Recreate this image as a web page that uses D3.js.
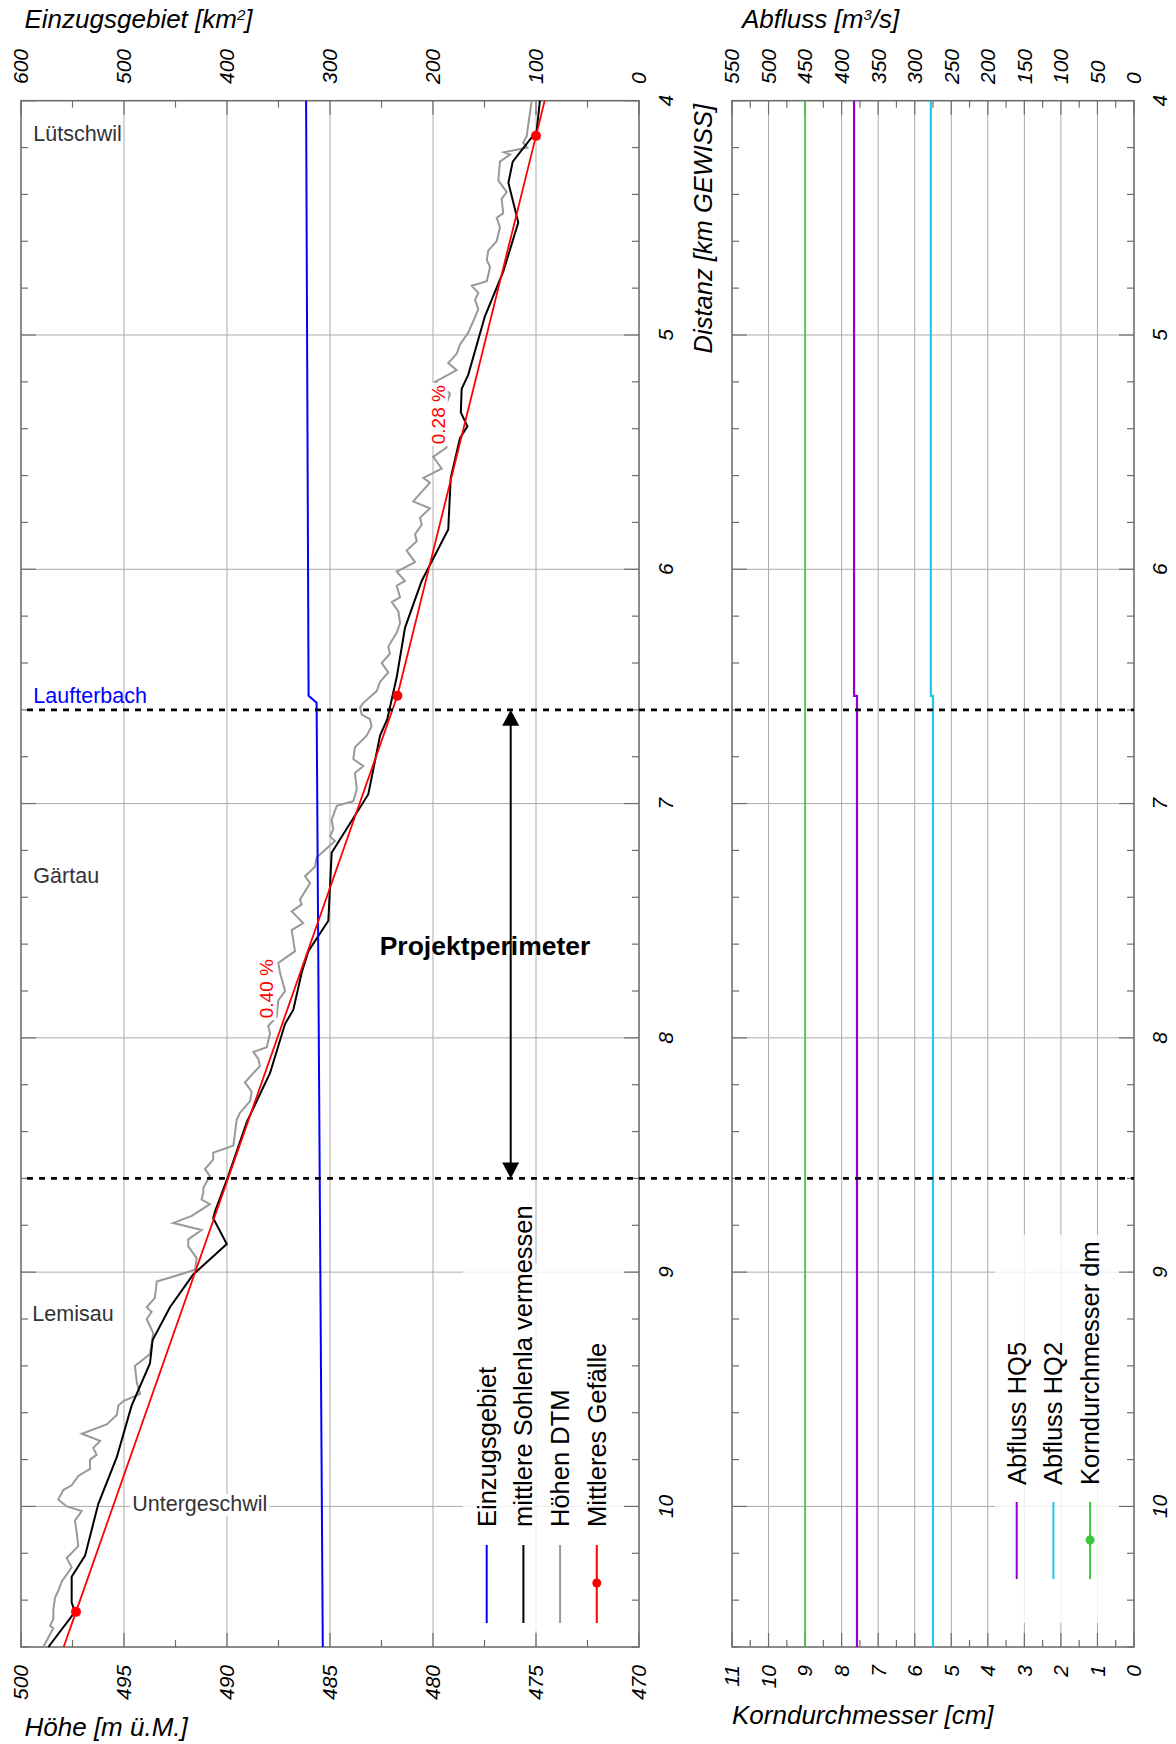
<!DOCTYPE html>
<html><head><meta charset="utf-8">
<script src="https://cdn.jsdelivr.net/npm/d3@7"></script>
<style>
body{margin:0;background:#fff}
svg{display:block}
text{font-family:"Liberation Sans",Arial,Helvetica,sans-serif}
</style>
</head><body>
<svg id="c" width="1176" height="1744"></svg>
<script>
// ---------------- DATA ----------------
const kmTicks = [4,5,6,7,8,9,10];
const hoeheTicks = [500,495,490,485,480,475,470];
const ezgTicks = [600,500,400,300,200,100,0];
const abflussTicks = [550,500,450,400,350,300,250,200,150,100,50,0];
const kornTicks = [11,10,9,8,7,6,5,4,3,2,1,0];

// mittlere Sohlenlage vermessen (km, m ü.M.)
const sohleKm = [4.00,4.13,4.26,4.35,4.52,4.73,4.92,5.17,5.23,5.33,5.39,5.44,5.61,5.83,6.05,6.25,6.46,6.64,6.71,6.96,7.21,7.50,7.63,7.72,7.88,7.94,8.15,8.36,8.59,8.74,8.77,8.88,9.01,9.15,9.29,9.39,9.57,9.79,9.99,10.21,10.30,10.41,10.45,10.60];
const sohleH  = [474.81,474.97,476.13,476.34,475.86,476.59,477.48,478.29,478.61,478.65,478.33,478.69,479.14,479.26,480.55,481.36,481.76,482.22,482.57,483.14,484.92,485.08,486.05,486.37,486.78,487.18,487.91,489.04,489.94,490.58,490.67,490.01,491.64,492.77,493.61,493.74,494.63,495.35,496.25,496.89,497.54,497.54,497.38,498.67];

// Höhen DTM
const dtmKm = [4.00,4.15,4.18,4.20,4.22,4.23,4.26,4.34,4.39,4.42,4.48,4.50,4.54,4.60,4.64,4.68,4.71,4.77,4.79,4.82,
4.85,4.89,4.94,4.99,5.04,5.08,5.12,5.15,5.20,5.25,5.33,5.48,5.52,5.57,5.61,5.63,5.71,5.74,5.78,5.81,
5.85,5.88,5.92,5.97,6.01,6.05,6.07,6.12,6.14,6.18,6.23,6.27,6.33,6.36,6.40,6.44,6.48,6.52,6.57,6.59,
6.62,6.64,6.67,6.71,6.76,6.81,6.84,6.87,6.94,6.99,7.01,7.07,7.11,7.14,7.16,7.23,7.27,7.31,7.34,7.41,
7.43,7.46,7.51,7.54,7.63,7.68,7.72,7.80,7.84,7.91,7.95,7.98,8.04,8.06,8.09,8.12,8.19,8.23,8.27,8.32,
8.35,8.46,8.47,8.49,8.52,8.56,8.59,8.64,8.66,8.69,8.71,8.76,8.79,8.82,8.86,8.89,8.94,8.99,9.01,9.04,
9.11,9.15,9.17,9.20,9.26,9.35,9.40,9.47,9.52,9.55,9.57,9.61,9.65,9.69,9.72,9.75,9.78,9.80,9.84,9.87,
9.91,9.93,9.97,10.00,10.02,10.06,10.11,10.17,10.22,10.26,10.32,10.36,10.39,10.44,10.48,10.51,10.52,10.60];
const dtmH = [475.21,475.45,475.62,475.42,476.55,476.26,476.75,476.83,476.42,476.67,476.59,476.91,476.75,476.91,477.32,477.39,477.23,477.39,478.12,477.80,
477.96,477.80,478.04,478.29,478.69,478.85,479.26,478.85,479.90,479.17,479.50,479.34,479.99,479.58,480.47,480.15,480.96,480.15,480.63,480.55,
480.87,480.79,481.28,480.87,481.76,481.36,481.76,481.60,482.00,481.68,481.60,481.76,482.17,482.09,482.49,482.17,482.57,482.73,483.38,483.54,
483.46,483.06,482.98,483.22,483.79,483.87,483.38,483.79,483.70,483.87,484.67,484.92,484.84,485.00,484.76,485.65,485.73,486.21,485.97,486.46,
486.37,486.86,486.30,486.86,486.70,487.51,487.43,487.18,487.51,487.59,488.00,487.91,488.07,488.72,488.48,488.40,489.13,488.80,488.88,489.37,
489.53,489.69,490.01,490.67,490.67,491.07,490.83,491.15,491.15,491.23,490.83,491.71,492.61,491.23,491.88,491.88,491.47,491.55,492.28,493.41,
493.50,493.90,493.66,493.90,493.58,493.74,494.47,494.38,494.22,495.03,495.28,495.35,495.84,497.05,496.16,496.49,496.33,496.65,496.65,497.22,
497.54,497.95,498.19,497.78,497.05,497.38,497.30,497.22,497.78,497.54,498.02,498.19,498.35,498.43,498.43,498.59,498.43,498.92];

// Mittleres Gefälle
const gefKm = [4.00,4.15,6.54,10.45,10.60];
const gefH  = [474.58,475.00,481.73,497.33,497.93];
const gefMarker = [false,true,true,true,false];
const gefLabels = ["0.28 %","0.40 %"];
const gefLabelKm = [5.34,7.79];
const gefLabelH = [479.75,488.07];

// Einzugsgebiet [km2]
const ezgKm = [4.00,6.54,6.57,10.60];
const ezgA  = [323.2,320.8,313.0,307.0];

// Abfluss [m3/s]
const hq5Km = [4.00,6.54,6.54,10.60];
const hq5Q  = [383,383,379,379];
const hq2Km = [4.00,6.54,6.54,10.60];
const hq2Q  = [278,278,275,275];
// Korndurchmesser [cm]
const kornKm = [4.00,10.60];
const kornCm = [9,9];

// Projektperimeter
const perimKm = [6.6,8.6];

// Ortsnamen
const placeNames = ["Lütschwil","Laufterbach","Gärtau","Lemisau","Untergeschwil"];
const placeKm = [4.17,6.57,7.34,9.21,10.02];
const placeH  = [499.4,499.4,499.4,499.45,494.6];
const placeColor = ["#333","#0000ff","#333","#333","#333"];

const legLeftNames = ["Einzugsgebiet","mittlere Sohlenla vermessen","Höhen DTM","Mittleres Gefälle"];
const legLeftColors = ["#0000ff","#000000","#999999","#ff0000"];
const legLeftMarker = [false,false,false,true];
const legRightNames = ["Abfluss HQ5","Abfluss HQ2","Korndurchmesser dm"];
const legRightColors = ["#9400d3","#1ec8f0","#3cc83c"];
const legRightMarker = [false,false,true];

// ---------------- LAYOUT ----------------
const svg = d3.select("#c");
const yTop = 100.7, yBot = 1647;
const L = {x0:21, x1:639}, R = {x0:732, x1:1134};
const yD = d3.scaleLinear().domain([4,10.6]).range([yTop,yBot]);
const xH = d3.scaleLinear().domain([500,470]).range([L.x0,L.x1]);
const xE = d3.scaleLinear().domain([600,0]).range([L.x0,L.x1]);
const xQ = d3.scaleLinear().domain([550,0]).range([R.x0,R.x1]);
const xK = d3.scaleLinear().domain([11,0]).range([R.x0,R.x1]);

const gridC = "#ababab", frameC = "#6e6e6e";

function rtext(x,y,str,anchor,size,opts={}){
  const t = svg.append("text")
    .attr("transform",`translate(${x},${y}) rotate(-90)`)
    .attr("dy","0.35em").attr("text-anchor",anchor)
    .attr("font-size",size).text(str);
  if(opts.italic) t.attr("font-style","italic");
  if(opts.fill) t.attr("fill",opts.fill);
  return t;
}

// gridlines
const grid = svg.append("g").attr("stroke",gridC).attr("stroke-width",1);
hoeheTicks.slice(1,-1).forEach(v=>grid.append("line").attr("x1",xH(v)).attr("x2",xH(v)).attr("y1",yTop).attr("y2",yBot));
abflussTicks.slice(1,-1).forEach(v=>grid.append("line").attr("x1",xQ(v)).attr("x2",xQ(v)).attr("y1",yTop).attr("y2",yBot));
kmTicks.slice(1).forEach(k=>{
  grid.append("line").attr("x1",L.x0).attr("x2",L.x1).attr("y1",yD(k)).attr("y2",yD(k));
  grid.append("line").attr("x1",R.x0).attr("x2",R.x1).attr("y1",yD(k)).attr("y2",yD(k));
});

// legend backgrounds
svg.append("rect").attr("x",463).attr("y",1263).attr("width",164).attr("height",368).attr("fill","#fff").attr("fill-opacity",0.8);
svg.append("rect").attr("x",995).attr("y",1235).attr("width",133).attr("height",388).attr("fill","#fff").attr("fill-opacity",0.8);

// frames and ticks
function frame(P, topScale, topVals, botScale, botVals){
  const g = svg.append("g").attr("stroke",frameC);
  g.append("rect").attr("x",P.x0).attr("y",yTop).attr("width",P.x1-P.x0).attr("height",yBot-yTop)
    .attr("fill","none").attr("stroke-width",1.6);
  topVals.forEach((v,i)=>{
    const x = topScale(v);
    g.append("line").attr("x1",x).attr("x2",x).attr("y1",yTop).attr("y2",yTop+14).attr("stroke-width",1.2);
    if(i<topVals.length-1){const xm=(x+topScale(topVals[i+1]))/2;
      g.append("line").attr("x1",xm).attr("x2",xm).attr("y1",yTop).attr("y2",yTop+7).attr("stroke-width",1.2);}
  });
  botVals.forEach((v,i)=>{
    const x = botScale(v);
    g.append("line").attr("x1",x).attr("x2",x).attr("y1",yBot).attr("y2",yBot-14).attr("stroke-width",1.2);
    if(i<botVals.length-1){const xm=(x+botScale(botVals[i+1]))/2;
      g.append("line").attr("x1",xm).attr("x2",xm).attr("y1",yBot).attr("y2",yBot-7).attr("stroke-width",1.2);}
  });
  d3.range(4,10.61,0.2).forEach(k=>{
    const y = yD(k), major = Math.abs(k-Math.round(k))<1e-6, len = major?15:7;
    g.append("line").attr("x1",P.x0).attr("x2",P.x0+len).attr("y1",y).attr("y2",y).attr("stroke-width",1.2);
    g.append("line").attr("x1",P.x1).attr("x2",P.x1-len).attr("y1",y).attr("y2",y).attr("stroke-width",1.2);
  });
}
frame(L, xE, ezgTicks, xH, hoeheTicks);
frame(R, xQ, abflussTicks, xK, kornTicks);

// ---------------- SERIES ----------------
const lineHD = d3.line().x(d=>xH(d[1])).y(d=>yD(d[0]));
svg.append("path").datum(d3.zip(dtmKm,dtmH)).attr("d",lineHD).attr("fill","none").attr("stroke","#999").attr("stroke-width",2);
svg.append("path").datum(d3.zip(sohleKm,sohleH)).attr("d",lineHD).attr("fill","none").attr("stroke","#000").attr("stroke-width",2);
svg.append("path").datum(d3.zip(ezgKm,ezgA)).attr("d",d3.line().x(d=>xE(d[1])).y(d=>yD(d[0])))
  .attr("fill","none").attr("stroke","#0000ff").attr("stroke-width",2);
svg.append("path").datum(d3.zip(gefKm,gefH)).attr("d",lineHD).attr("fill","none").attr("stroke","#ff0000").attr("stroke-width",1.8);
gefKm.forEach((k,i)=>{ if(gefMarker[i]) svg.append("circle").attr("cx",xH(gefH[i])).attr("cy",yD(k)).attr("r",5).attr("fill","#ff0000"); });

const lineQ = d3.line().x(d=>xQ(d[1])).y(d=>yD(d[0]));
svg.append("path").datum(d3.zip(kornKm,kornCm)).attr("d",d3.line().x(d=>xK(d[1])).y(d=>yD(d[0])))
  .attr("fill","none").attr("stroke",legRightColors[2]).attr("stroke-width",1.6);
svg.append("path").datum(d3.zip(hq5Km,hq5Q)).attr("d",lineQ).attr("fill","none").attr("stroke",legRightColors[0]).attr("stroke-width",2.2);
svg.append("path").datum(d3.zip(hq2Km,hq2Q)).attr("d",lineQ).attr("fill","none").attr("stroke",legRightColors[1]).attr("stroke-width",2.2);

// slope labels with white background
gefLabels.forEach((s,i)=>{
  const g = svg.append("g").attr("transform",`translate(${xH(gefLabelH[i])},${yD(gefLabelKm[i])}) rotate(-90)`);
  const r = g.append("rect").attr("fill","#fff");
  const t = g.append("text").attr("text-anchor","middle").attr("dy","0.35em").attr("font-size",19).attr("fill","#ff0000").text(s);
  const b = t.node().getBBox();
  r.attr("x",b.x-2).attr("y",b.y+1).attr("width",b.width+4).attr("height",b.height-2);
});

// Projektperimeter dashed lines + arrow
perimKm.forEach(k=>{
  svg.append("line").attr("x1",27).attr("x2",1134).attr("y1",yD(k)).attr("y2",yD(k))
    .attr("stroke","#000").attr("stroke-width",2.6).attr("stroke-dasharray","6,6");
});
const ax = 510.7, ya = yD(perimKm[0]), yb = yD(perimKm[1]);
svg.append("line").attr("x1",ax).attr("x2",ax).attr("y1",ya+14).attr("y2",yb-14).attr("stroke","#000").attr("stroke-width",2);
svg.append("path").attr("d",`M${ax},${ya} L${ax-8.5},${ya+16} L${ax+8.5},${ya+16} Z`).attr("fill","#000");
svg.append("path").attr("d",`M${ax},${yb} L${ax-8.5},${yb-16} L${ax+8.5},${yb-16} Z`).attr("fill","#000");
svg.append("text").attr("x",485).attr("y",955).attr("text-anchor","middle").attr("font-size",26.5)
  .attr("font-weight","bold").text("Projektperimeter");

// place names
placeNames.forEach((n,i)=>{
  const g = svg.append("g");
  const r = g.append("rect").attr("fill","none");
  const t = g.append("text").attr("x",xH(placeH[i])).attr("y",yD(placeKm[i])).attr("font-size",21.5)
    .attr("fill",placeColor[i]).text(n);
  if(n==="Untergeschwil"){
    const b = t.node().getBBox();
    r.attr("x",b.x-2).attr("y",b.y+2).attr("width",b.width+4).attr("height",b.height-2).attr("fill","#fff");
  }
});

// ---------------- AXIS LABELS ----------------
ezgTicks.forEach(v=>rtext(xE(v),84,v,"start",21,{italic:true}));
hoeheTicks.forEach(v=>rtext(xH(v),1665,v,"end",21,{italic:true}));
abflussTicks.forEach(v=>rtext(xQ(v),84,v,"start",21,{italic:true}));
kornTicks.forEach(v=>rtext(xK(v),1665,v,"end",21,{italic:true}));
kmTicks.forEach(k=>{ rtext(666,yD(k),k,"middle",21,{italic:true}); rtext(1160,yD(k),k,"middle",21,{italic:true}); });

function title(x,y,parts){
  const t = svg.append("text").attr("x",x).attr("y",y).attr("font-size",26).attr("font-style","italic");
  parts.forEach(p=>{
    const s = t.append("tspan").text(p[0]);
    if(p[1]) s.attr("font-size",15).attr("baseline-shift","super");
  });
  return t;
}
title(24.5,28,[["Einzugsgebiet [km"],["2",1],["]"]]);
title(742,28,[["Abfluss [m"],["3",1],["/s]"]]);
title(24.5,1736,[["Höhe [m ü.M.]"]]);
title(732,1724,[["Korndurchmesser [cm]"]]);
svg.append("text").attr("transform","translate(703,104) rotate(-90)").attr("dy","0.35em")
  .attr("text-anchor","end").attr("font-size",25.5).attr("font-style","italic").text("Distanz [km GEWISS]");

// ---------------- LEGENDS ----------------
legLeftNames.forEach((n,i)=>{
  const x = 486.7 + i*36.7;
  svg.append("line").attr("x1",x).attr("x2",x).attr("y1",1545).attr("y2",1623).attr("stroke",legLeftColors[i]).attr("stroke-width",2);
  if(legLeftMarker[i]) svg.append("circle").attr("cx",x).attr("cy",1583).attr("r",4.5).attr("fill",legLeftColors[i]);
  rtext(x,1527,n,"start",25.5);
});
legRightNames.forEach((n,i)=>{
  const x = 1016.7 + i*36.7;
  svg.append("line").attr("x1",x).attr("x2",x).attr("y1",1502).attr("y2",1579).attr("stroke",legRightColors[i]).attr("stroke-width",2);
  if(legRightMarker[i]) svg.append("circle").attr("cx",x).attr("cy",1540).attr("r",4.5).attr("fill",legRightColors[i]);
  rtext(x,1485,n,"start",25.5);
});
</script>
</body></html>
